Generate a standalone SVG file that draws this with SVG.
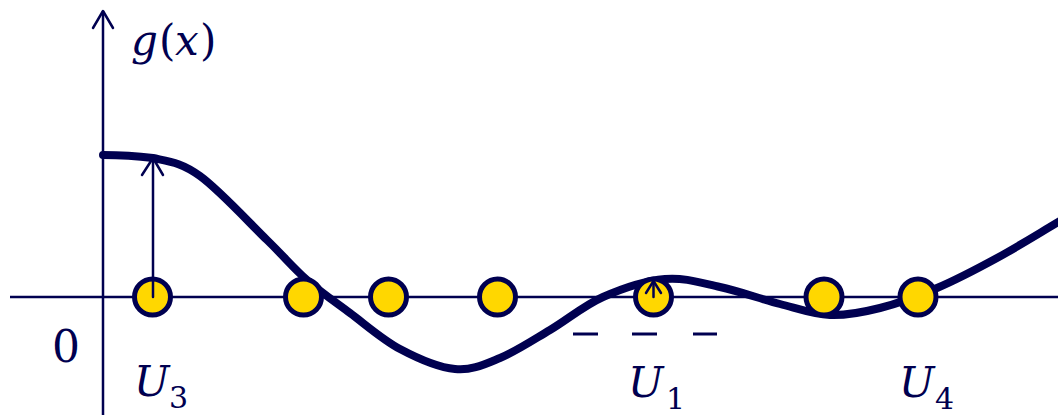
<svg xmlns="http://www.w3.org/2000/svg" width="1058" height="415" viewBox="0 0 1058 415">
<style>
.ax{stroke:#000050;stroke-width:2.5;fill:none}
.ar{stroke:#000050;stroke-width:2.5;fill:none;stroke-linecap:round;stroke-linejoin:round}
.curve{stroke:#000050;stroke-width:8;fill:none;stroke-linecap:round}
.pt{fill:#FFD700;stroke:#000050;stroke-width:5}
.dash{stroke:#000050;stroke-width:3}
.lbl{font-family:'DejaVu Serif','Liberation Serif',serif;fill:#000050}
.it{font-style:italic}
</style>
<rect width="1058" height="415" fill="#ffffff"/>
<g id="axes">
<line class="ax" x1="10" y1="297" x2="1058" y2="297"/>
<line class="ax" x1="103" y1="11" x2="103" y2="415"/>
<polyline class="ar" points="93,28 103,11 113,28"/>
</g>
<g id="curve">
<path class="curve" d="M103,155 C120,155 137,156 153,158 C169.2,161.5 181,162.3 200,176 C219,189.7 249.2,222.7 267,240 C284.8,257.3 293.2,267.8 307,280 C320.8,292.2 334.5,301.5 350,313 C365.5,324.5 382.5,339.7 400,349 C417.5,358.3 438.3,367.5 455,369 C471.7,370.7 484.2,364.5 500,358 C515.8,351.5 532.8,340.2 550,330 C567.2,319.8 583.8,305.5 603,297 C622.2,288.5 645.5,280.7 665,279 C684.5,277.3 700.8,282.8 720,287 C739.2,291.2 761.7,299.3 780,304 C798.3,308.7 813.3,314.3 830,315 C846.7,315.7 862.2,312.5 880,308 C897.8,303.5 917.5,296.3 937,288 C956.5,279.7 976.8,269 997,258 C1017.2,247 1038,234 1060,221"/>
</g>
<g id="points">
<circle class="pt" cx="152.5" cy="297" r="18"/>
<circle class="pt" cx="303.5" cy="297" r="18"/>
<circle class="pt" cx="388.5" cy="297" r="18"/>
<circle class="pt" cx="497.5" cy="297" r="18"/>
<circle class="pt" cx="653.5" cy="297" r="18"/>
<circle class="pt" cx="824" cy="297" r="18"/>
<circle class="pt" cx="918" cy="297" r="18"/>
</g>
<g id="connectors">
<line class="ar" x1="153" y1="297" x2="153" y2="158"/>
<polyline class="ar" points="142,175 153,158 163,175"/>
<line class="ar" x1="653.5" y1="297" x2="653.5" y2="281"/>
<polyline class="ar" points="646,293 653.5,281 661,293"/>
</g>
<g id="dashes">
<line class="dash" x1="573" y1="334" x2="598" y2="334"/>
<line class="dash" x1="632" y1="334" x2="657" y2="334"/>
<line class="dash" x1="693" y1="334" x2="717" y2="334"/>
</g>
<g id="labels">
<text class="lbl" font-size="42" y="55"><tspan class="it" x="131">g</tspan><tspan x="159">(</tspan><tspan class="it" x="175">x</tspan><tspan x="200">)</tspan></text>
<text class="lbl" font-size="44" x="52" y="362">0</text>
<text class="lbl" y="396"><tspan class="it" font-size="42" x="134">U</tspan><tspan font-size="30" x="169" dy="12">3</tspan></text>
<text class="lbl" y="397"><tspan class="it" font-size="42" x="628">U</tspan><tspan font-size="30" x="666" dy="12">1</tspan></text>
<text class="lbl" y="397"><tspan class="it" font-size="42" x="899">U</tspan><tspan font-size="30" x="935" dy="12">4</tspan></text>
</g>
</svg>
